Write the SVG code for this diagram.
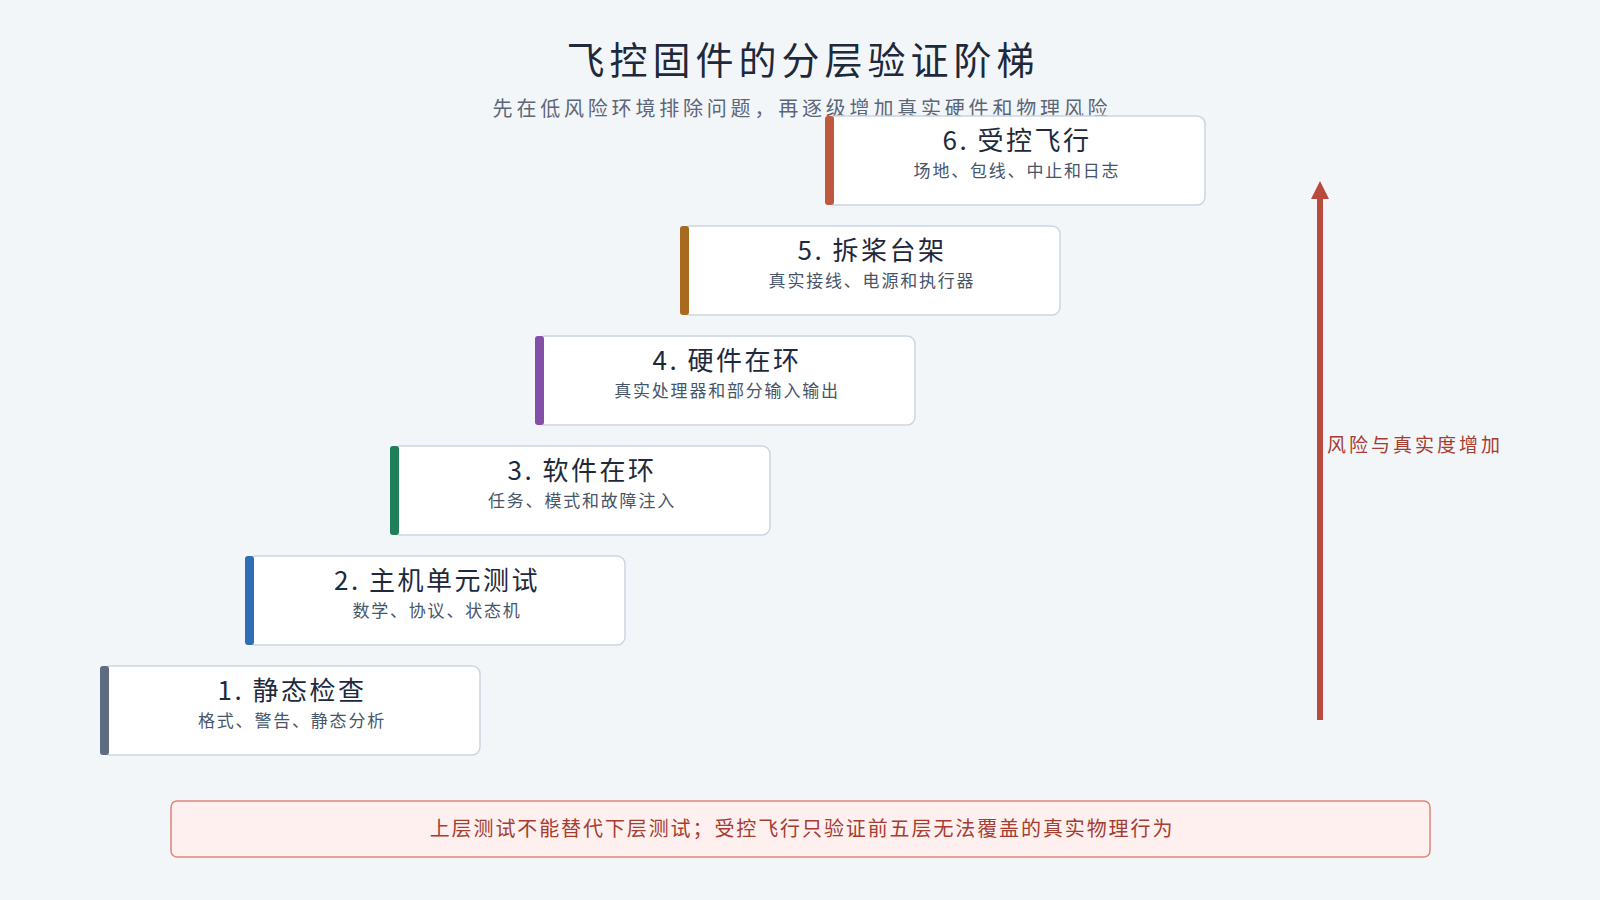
<svg xmlns="http://www.w3.org/2000/svg" width="1600" height="900" viewBox="0 0 1600 900">
<defs>
<style>
text{font-family:"Noto Sans CJK SC","Noto Sans",sans-serif;}
.box{fill:#fff;stroke:#cbd5e1;stroke-width:1.5;}
.t{font-size:26px;fill:#1e293b;text-anchor:middle;letter-spacing:2.5px;}
.s{font-size:17px;fill:#475569;text-anchor:middle;letter-spacing:1.8px;}
</style>
<marker id="ah" viewBox="0 0 10 10" refX="5" refY="5" markerWidth="3" markerHeight="3" orient="auto"><path d="M0,0L10,5L0,10z" fill="#b94a3e"/></marker>
</defs>
<rect width="1600" height="900" fill="#f3f6f9"/>
<text x="803" y="74" style="font-size:38px;fill:#1e293b;text-anchor:middle;letter-spacing:5px">飞控固件的分层验证阶梯</text>
<text x="802" y="116" style="font-size:20px;fill:#5b6677;text-anchor:middle;letter-spacing:3.8px">先在低风险环境排除问题，再逐级增加真实硬件和物理风险</text>
<g id="n1"><rect class="box" x="102" y="666" width="378" height="89" rx="8"/><rect x="100" y="666" width="9" height="89" rx="3" fill="#5f6b80"/><text class="t" x="292" y="700">1. 静态检查</text><text class="s" x="292" y="727">格式、警告、静态分析</text></g>
<g id="n2"><rect class="box" x="247" y="556" width="378" height="89" rx="8"/><rect x="245" y="556" width="9" height="89" rx="3" fill="#2f6db5"/><text class="t" x="437" y="590">2. 主机单元测试</text><text class="s" x="437" y="617">数学、协议、状态机</text></g>
<g id="n3"><rect class="box" x="392" y="446" width="378" height="89" rx="8"/><rect x="390" y="446" width="9" height="89" rx="3" fill="#1e7f5a"/><text class="t" x="582" y="480">3. 软件在环</text><text class="s" x="582" y="507">任务、模式和故障注入</text></g>
<g id="n4"><rect class="box" x="537" y="336" width="378" height="89" rx="8"/><rect x="535" y="336" width="9" height="89" rx="3" fill="#8250a8"/><text class="t" x="727" y="370">4. 硬件在环</text><text class="s" x="727" y="397">真实处理器和部分输入输出</text></g>
<g id="n5"><rect class="box" x="682" y="226" width="378" height="89" rx="8"/><rect x="680" y="226" width="9" height="89" rx="3" fill="#a86a1e"/><text class="t" x="872" y="260">5. 拆桨台架</text><text class="s" x="872" y="287">真实接线、电源和执行器</text></g>
<g id="n6"><rect class="box" x="827" y="116" width="378" height="89" rx="8"/><rect x="825" y="116" width="9" height="89" rx="3" fill="#c0573f"/><text class="t" x="1017" y="150">6. 受控飞行</text><text class="s" x="1017" y="177">场地、包线、中止和日志</text></g>
<g id="connectors"><line x1="1320" y1="720" x2="1320" y2="190" stroke="#b94a3e" stroke-width="6" marker-end="url(#ah)"/></g>
<text x="1327" y="452" style="font-size:19px;fill:#a63d32;letter-spacing:3px">风险与真实度增加</text>
<g id="note"><rect x="171" y="801" width="1259" height="56" rx="6" fill="#fdf0ee" stroke="#e0857a" stroke-width="1.5"/><text x="802" y="836" style="font-size:20px;fill:#a63d32;text-anchor:middle;letter-spacing:1.9px">上层测试不能替代下层测试；受控飞行只验证前五层无法覆盖的真实物理行为</text></g>
</svg>
